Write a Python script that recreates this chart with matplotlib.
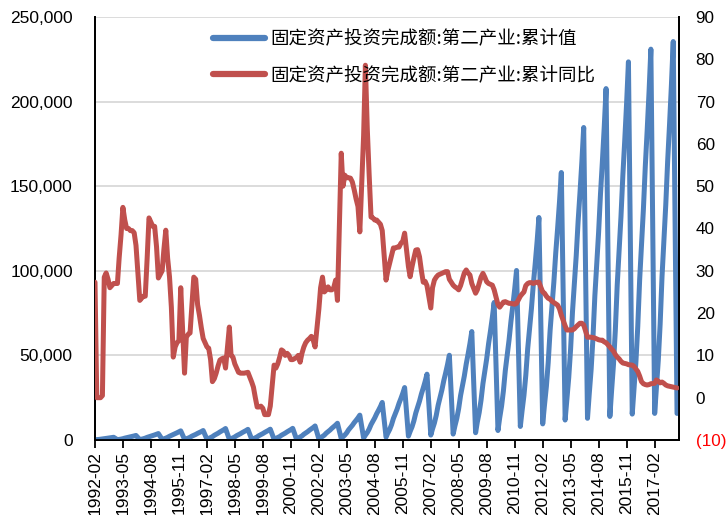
import numpy as np
import pandas as pd
import matplotlib
matplotlib.use("Agg")
import matplotlib.pyplot as plt
from matplotlib.lines import Line2D

plt.rcParams['font.family'] = ['Liberation Sans', 'Noto Sans CJK SC', 'DejaVu Sans']

# ============================================================
# DATA  (monthly, Feb..Dec each year, January not published)
# ============================================================

label_value = "固定资产投资完成额:第二产业:累计值"
label_yoy   = "固定资产投资完成额:第二产业:累计同比"

# cumulative value (left axis)
cum_value = [
    150, 210, 320, 460, 660, 800, 940, 1120, 1260, 1420, 1600,                         # 1992
    200, 350, 540, 780, 1110, 1350, 1590, 1890, 2130, 2400, 2700,                      # 1993
    250, 490, 760, 1100, 1560, 1900, 2240, 2660, 3000, 3380, 3800,                     # 1994
    350, 700, 1080, 1570, 2210, 2700, 3190, 3780, 4270, 4810, 5400,                    # 1995
    400, 730, 1120, 1620, 2300, 2800, 3300, 3920, 4420, 4980, 5600,                    # 1996
    400, 880, 1360, 1970, 2790, 3400, 4010, 4760, 5370, 6050, 6800,                    # 1997
    450, 820, 1260, 1830, 2580, 3150, 3720, 4410, 4980, 5610, 6300,                    # 1998
    400, 830, 1280, 1860, 2620, 3200, 3780, 4480, 5060, 5700, 6400,                    # 1999
    400, 900, 1380, 2000, 2830, 3450, 4070, 4830, 5450, 6140, 6900,                    # 2000
    500, 1080, 1660, 2410, 3400, 4150, 4900, 5810, 6560, 7390, 8300,                   # 2001
    600, 1290, 1980, 2870, 4060, 4950, 5840, 6930, 7820, 8810, 9900,                   # 2002
    800, 1910, 2940, 4260, 6030, 7350, 8670, 10290, 11610, 13080, 14700,               # 2003
    1200, 2890, 4440, 6440, 9100, 11100, 13100, 15540, 17540, 19760, 22200,            # 2004
    1700, 4030, 6200, 8990, 12710, 15500, 18290, 21700, 24490, 27590, 31000,           # 2005
    2300, 5060, 7780, 11280, 15950, 19450, 22950, 27230, 30730, 34620, 38900,          # 2006
    2900, 6510, 10020, 14530, 20540, 25050, 29560, 35070, 39580, 44590, 50100,         # 2007
    3500, 8330, 12820, 18590, 26280, 32050, 37820, 44870, 50640, 57050, 64100,         # 2008
    4300, 10570, 16260, 23580, 33330, 40650, 47970, 56910, 64230, 72360, 81300,        # 2009
    5600, 13030, 20040, 29060, 41080, 50100, 59120, 70140, 79160, 89180, 100200,       # 2010
    8000, 17100, 26300, 38140, 53920, 65750, 77590, 92050, 103890, 117040, 131500,     # 2011
    9500, 20550, 31620, 45850, 64820, 79050, 93280, 110670, 124900, 140710, 158100,    # 2012
    11800, 24010, 36940, 53560, 75730, 92350, 108970, 129290, 145910, 164380, 184700,  # 2013
    12800, 27000, 41540, 60230, 85160, 103850, 122540, 145390, 164080, 184850, 207700, # 2014
    13900, 29060, 44700, 64820, 91640, 111750, 131870, 156450, 176570, 198920, 223500, # 2015
    15300, 30030, 46200, 66990, 94710, 115500, 136290, 161700, 182490, 205590, 231000, # 2016
    15700, 30620, 47100, 68300, 96560, 117750, 138950, 164850, 186050, 209600, 235500, # 2017
    15700,                                                                              # 2018
]

# cumulative YoY growth, % (right axis)
yoy = [
    27.3, 0, 0, 0, 0.5, 28.5, 29.5, 28, 26, 26.5, 27,                    # 1992
    27, 33, 38.5, 45, 42, 40, 40, 39.5, 39.5, 39, 36,                    # 1993
    23, 23.5, 24, 24, 33, 42.5, 41.5, 40.5, 40.5, 35.7, 28.3,            # 1994
    30, 35, 39.6, 33, 28.5, 21.4, 9.6, 12, 13, 13.5, 26,                 # 1995
    5.8, 14.3, 15, 15.3, 22, 28.5, 28, 22, 19.5, 16.5, 14,               # 1996
    12, 11.7, 9, 3.8, 4.5, 5.8, 7.5, 8.9, 9.2, 9.4, 7,                   # 1997
    16.7, 10, 9.6, 8, 7, 6, 5.8, 5.8, 5.8, 5.9, 6,                       # 1998
    3.7, 2.5, 0, -2.2, -2.2, -2, -2.5, -4, -4, -4, -2,                   # 1999
    7.7, 7, 8, 9.5, 11.3, 11, 10, 10.5, 10, 9, 9,                        # 2000
    9.5, 10, 8.4, 10.5, 12, 13, 13.6, 14, 14.5, 13.6, 12,                # 2001
    21, 26, 28.5, 25, 25.5, 26.2, 25.5, 25.5, 26, 27.8, 23,              # 2002
    57.8, 50, 52.6, 52, 52, 51.9, 51, 49.1, 47, 45.2, 39.2,              # 2003
    62, 78.6, 63.5, 52.8, 42.7, 42.5, 42, 42, 41.5, 41, 39.5,            # 2004
    27.8, 30, 31.8, 33.5, 35.4, 35.4, 35.6, 35.6, 36.5, 37, 38.9,        # 2005
    31, 28.6, 31, 33, 34.9, 35, 33.3, 30, 27.3, 27.5, 26.5,              # 2006
    21.2, 26, 27.8, 28.5, 29, 29.2, 29.4, 29.6, 29.8, 29.8, 28,          # 2007
    26.6, 26.2, 25.9, 25.5, 26.5, 28, 29.5, 30.2, 29.5, 29, 27,          # 2008
    24.7, 25.5, 27, 28.5, 29.4, 28.5, 27.4, 27, 26.8, 26.6, 25.5,        # 2009
    22, 21.4, 22, 22.6, 22.7, 22.5, 22.3, 22.3, 22.2, 22.1, 22.3,        # 2010
    24, 24.5, 25, 26.5, 27, 27.2, 27.2, 27, 27.2, 27.3, 27.3,            # 2011
    25, 24.7, 24, 23.5, 23.3, 22.8, 22.5, 22.2, 21.9, 21, 19.5,          # 2012
    17, 16, 16, 16, 16, 16.3, 16.8, 17.2, 17.6, 17.6, 17.2,              # 2013
    14.3, 14.3, 14.3, 14.2, 14.1, 13.9, 13.7, 13.6, 13.6, 13.2, 13,      # 2014
    12, 11.5, 11, 10.2, 9.6, 9.2, 8.6, 8.2, 8.1, 8, 7.8,                 # 2015
    7.7, 7.4, 6.8, 6.2, 5.1, 3.8, 3.3, 3.1, 3, 3.1, 3.3,                 # 2016
    3.4, 4.2, 3.9, 3.5, 3.7, 3.4, 3, 2.8, 2.7, 2.6, 2.5,                 # 2017
    2.3,                                                                 # 2018
]

months = pd.date_range("1992-02-01", "2018-02-01", freq="MS")
months = months[months.month != 1]

x_ticks = pd.date_range("1992-02-01", "2017-02-01", freq="15MS")

# ============================================================
# PLOT
# ============================================================

BLUE = "#4F81BD"
RED  = "#C0504D"

fig = plt.figure(figsize=(7.28, 5.15), dpi=100)
ax = fig.add_axes([95/728, 75/515, 584/728, 423/515])
ax2 = ax.twinx()

ax.plot(months, cum_value, color=BLUE, lw=3.6,
        solid_joinstyle="round", solid_capstyle="round", zorder=3)
ax2.plot(months, yoy, color=RED, lw=3.6,
         solid_joinstyle="round", solid_capstyle="round", zorder=3)

ax.set_ylim(0, 250000)
ax2.set_ylim(-10, 90)
ax.set_xlim(pd.Timestamp("1992-02-01"), pd.Timestamp("2018-03-05"))

ax.set_yticks(np.arange(0, 250001, 50000))
ax.set_yticklabels([f"{v:,.0f}" for v in np.arange(0, 250001, 50000)])
r_ticks = np.arange(-10, 91, 10)
ax2.set_yticks(r_ticks)
ax2.set_yticklabels([f"({-v})" if v < 0 else f"{v}" for v in r_ticks])
for t in ax2.get_yticklabels():
    if t.get_text().startswith("("):
        t.set_color("red")

ax.set_xticks(x_ticks)
ax.set_xticklabels([d.strftime("%Y-%m") for d in x_ticks], rotation=90)

ax.grid(axis="y", color="#d9d9d9", lw=1.3, zorder=0)
ax.set_axisbelow(True)

for a in (ax, ax2):
    a.spines["top"].set_visible(False)
    for s in ("left", "right", "bottom"):
        a.spines[s].set_color("black")
        a.spines[s].set_linewidth(1.3)

ax.tick_params(axis="y", length=0, pad=16, labelsize=12.5)
ax2.tick_params(axis="y", length=0, pad=12, labelsize=12.3)
ax.tick_params(axis="x", length=6, width=1.3, direction="out", pad=2, labelsize=12.5)

handles = [Line2D([], [], color=BLUE, lw=4.5, solid_capstyle="round"),
           Line2D([], [], color=RED, lw=4.5, solid_capstyle="round")]
leg = ax2.legend(handles, [label_value, label_yoy],
                 loc="upper left", bbox_to_anchor=(0.173, 1.008),
                 frameon=False, handlelength=2.85, handletextpad=0.3,
                 labelspacing=1.0,
                 prop={"family": ["Noto Sans CJK SC", "DejaVu Sans"], "size": 13.3})

fig.savefig("out.png", dpi=100)
